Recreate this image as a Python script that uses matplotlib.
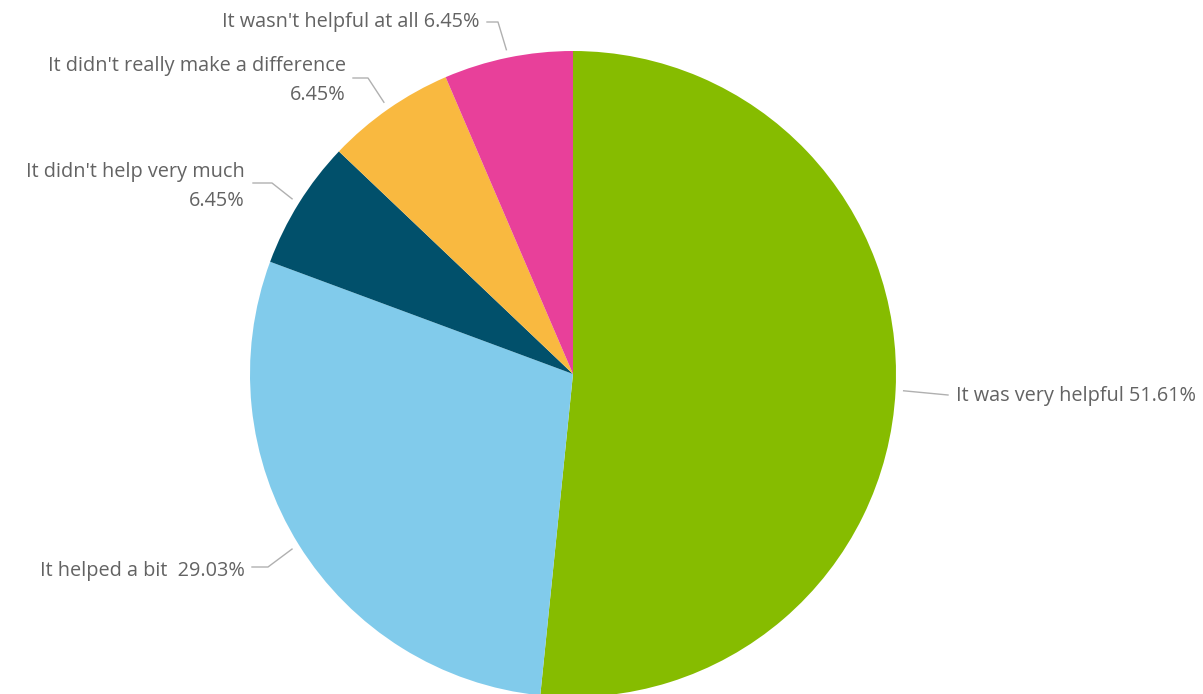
import numpy as np
import matplotlib.pyplot as plt

# dane
labels = ["It was very helpful", "It helped a bit ", "It didn't help very much",
          "It didn't really make a difference", "It wasn't helpful at all"]
values = [51.61, 29.03, 6.45, 6.45, 6.45]
colors = ["#86bc00", "#81cbeb", "#01506b", "#f9b940", "#e8409a"]

W, H = 1203, 694
CX, CY, R = 573, 374, 323

fig = plt.figure(figsize=(W / 100, H / 100), dpi=100)
ax = fig.add_axes([(CX - R) / W, (H - CY - R) / H, 2 * R / W, 2 * R / H])

wedges, _ = ax.pie(values, colors=colors, startangle=90, counterclock=False,
                   radius=1, center=(0, 0), wedgeprops=dict(linewidth=0))
for w in wedges:
    w.set_clip_on(False)
# pie ustawia wlasne granice, wiec nadpisujemy je dopiero teraz
ax.set_xlim(-1, 1)
ax.set_ylim(-1, 1)
ax.axis('off')


def px(x, y):
    # piksele -> wspolrzedne osi
    return (x - CX) / R, (CY - y) / R


# polozenie etykiet (piksele): lokiec linii, koniec linii, tekst, wyrownanie
layout = [
    (None, (948, 395), (956, 396), 'left', "{} {:.2f}%"),
    ((268, 567), (252, 567), (245, 571), 'right', "{} {:.2f}%"),
    ((272, 183), (253, 183), (245, 186), 'right', "{}\n{:.2f}%"),
    ((368, 78), (353, 78), (346, 80), 'right', "{}\n{:.2f}%"),
    ((498, 22), (487, 22), (480, 22), 'right', "{} {:.2f}%"),
]

txt_color = "#636363"
line_color = "#b0b0b0"
for w, lab, val, (elbow, end, tpos, ha, fmt) in zip(wedges, labels, values, layout):
    ang = np.deg2rad((w.theta1 + w.theta2) / 2)
    pts = [(1.025 * np.cos(ang), 1.025 * np.sin(ang))]
    if elbow is not None:
        pts.append(px(*elbow))
    pts.append(px(*end))
    xs, ys = zip(*pts)
    ax.plot(xs, ys, color=line_color, lw=1, clip_on=False)
    tx, ty = px(*tpos)
    ax.text(tx, ty, fmt.format(lab, val), ha=ha, va='center', multialignment='right',
            fontsize=14.3, color=txt_color, family=["Open Sans", "DejaVu Sans"],
            linespacing=1.6, clip_on=False)

fig.savefig("out.png", dpi=100)
